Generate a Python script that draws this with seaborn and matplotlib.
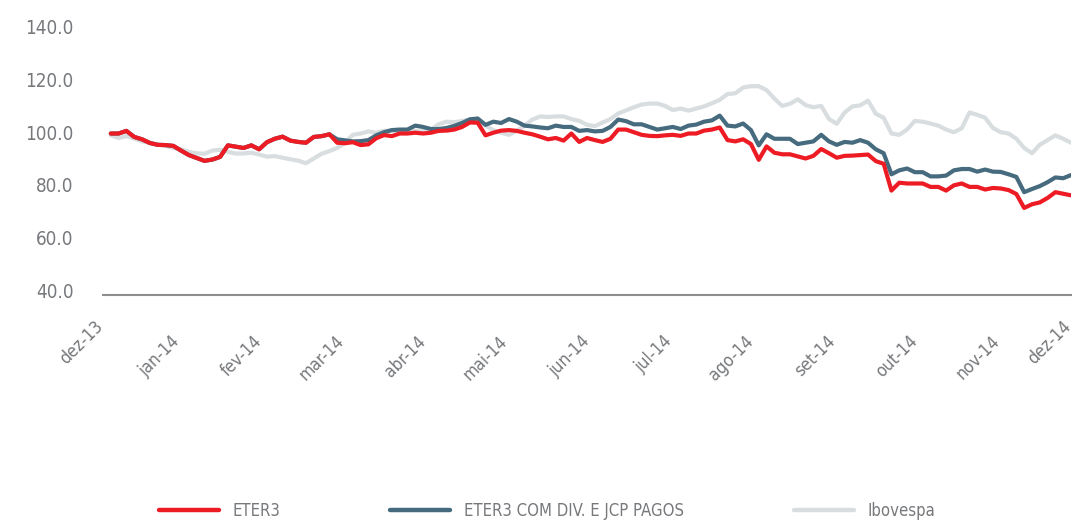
import numpy as np
import pandas as pd
import seaborn as sns
import matplotlib.pyplot as plt
from matplotlib.transforms import ScaledTranslation

#---------------------------------data (base 100, sampled every 2 trading days)
series_names = ["ETER3", "ETER3 COM DIV. E JCP PAGOS", "Ibovespa"]
month_labels = ["dez-13", "jan-14", "fev-14", "mar-14", "abr-14", "mai-14", "jun-14",
                "jul-14", "ago-14", "set-14", "out-14", "nov-14", "dez-14"]
month_days = [0, 19, 40, 61, 82, 103, 124, 145, 166, 187, 208, 229, 248]

eter3 = [99.5, 99.5, 100.5, 98.2, 97.3, 95.9, 95.2, 95.1, 94.8, 93.0,
         91.3, 90.2, 89.1, 89.6, 90.6, 95.0, 94.5, 94.0, 95.0, 93.5,
         96.2, 97.5, 98.3, 96.8, 96.3, 96.0, 98.2, 98.5, 99.2, 96.0,
         95.8, 96.2, 95.1, 95.4, 97.7, 98.9, 98.5, 99.5, 99.5, 99.8,
         99.5, 99.8, 100.5, 100.6, 101.0, 102.0, 103.7, 103.6, 98.8, 99.8,
         100.6, 100.8, 100.5, 99.8, 99.2, 98.3, 97.3, 97.8, 96.8, 99.5,
         96.3, 97.8, 97.0, 96.3, 97.5, 101.0, 101.0, 100.0, 99.0, 98.6,
         98.5, 98.8, 99.0, 98.6, 99.5, 99.5, 100.6, 101.0, 101.8, 97.0,
         96.5, 97.3, 95.5, 89.5, 94.6, 92.2, 91.6, 91.6, 90.8, 90.0,
         91.0, 93.6, 92.0, 90.3, 91.0, 91.1, 91.3, 91.5, 89.0, 88.0,
         77.8, 80.8, 80.5, 80.5, 80.5, 79.2, 79.2, 77.8, 79.8, 80.5,
         79.2, 79.2, 78.2, 78.8, 78.6, 78.0, 76.5, 71.2, 72.6, 73.3,
         75.0, 77.2, 76.6, 76.0]

eter3_div = [99.5, 99.5, 100.5, 98.2, 97.3, 95.9, 95.2, 95.1, 94.8, 93.0,
             91.3, 90.2, 89.1, 89.6, 90.6, 95.0, 94.5, 94.0, 95.0, 93.5,
             96.2, 97.5, 98.3, 96.8, 96.3, 96.0, 98.2, 98.5, 99.2, 97.3,
             96.9, 96.5, 96.6, 97.0, 98.8, 100.0, 100.8, 101.0, 101.0, 102.5,
             102.0, 101.2, 101.2, 101.6, 102.4, 103.5, 104.9, 105.2, 102.8, 104.0,
             103.5, 105.0, 104.0, 102.5, 102.2, 101.8, 101.5, 102.5, 102.0, 102.0,
             100.5, 100.8, 100.3, 100.5, 102.0, 104.8, 104.2, 103.0, 103.0, 102.0,
             101.0, 101.5, 102.0, 101.2, 102.5, 102.9, 104.0, 104.5, 106.3, 102.5,
             102.2, 103.3, 100.8, 95.0, 99.2, 97.5, 97.5, 97.5, 95.5, 96.0,
             96.5, 99.0, 96.5, 95.2, 96.3, 96.0, 97.0, 96.0, 93.5, 92.0,
             84.0, 85.5, 86.2, 84.8, 84.8, 83.2, 83.2, 83.5, 85.5, 86.0,
             86.0, 85.0, 85.8, 85.0, 84.9, 84.0, 83.0, 77.2, 78.4, 79.5,
             81.0, 82.8, 82.5, 83.7]

ibovespa = [98.8, 97.8, 98.5, 97.6, 96.5, 96.0, 95.3, 94.8, 94.0, 93.5,
            92.5, 92.0, 91.8, 93.0, 93.3, 92.5, 91.9, 91.9, 92.2, 91.5,
            90.7, 90.9, 90.3, 89.7, 89.2, 88.2, 90.0, 91.8, 92.8, 94.0,
            96.0, 99.0, 99.5, 100.3, 99.8, 100.5, 100.6, 100.5, 100.5, 100.5,
            100.5, 101.0, 103.0, 104.0, 103.8, 104.3, 104.8, 104.8, 102.5, 100.8,
            99.8, 99.0, 100.5, 102.5, 104.8, 106.0, 105.8, 106.0, 106.0, 105.0,
            104.3, 102.8, 102.3, 103.7, 105.0, 107.1, 108.3, 109.5, 110.5, 110.9,
            110.9, 110.0, 108.4, 109.0, 108.2, 109.0, 109.8, 111.0, 112.3, 114.5,
            114.8, 117.0, 117.5, 117.5, 116.0, 112.8, 110.0, 110.8, 112.5, 110.3,
            109.5, 110.0, 105.0, 103.2, 107.5, 109.8, 110.2, 112.0, 107.0, 105.5,
            99.5, 99.0, 101.0, 104.3, 104.0, 103.3, 102.5, 101.0, 100.0, 101.5,
            107.5, 106.6, 105.5, 101.6, 100.0, 99.5, 97.5, 94.0, 92.0, 95.2,
            97.0, 98.8, 97.5, 96.0]

days = np.arange(2, 2 * len(eter3) + 1, 2)

df = pd.DataFrame({
    "dia": np.tile(days, 3),
    "valor": eter3 + eter3_div + ibovespa,
    "serie": np.repeat(series_names, len(days)),
})

#---------------------------------style
sns.set_style("white")
plt.rcParams["font.family"] = ["DejaVu Sans"]
plt.rcParams["font.stretch"] = "condensed"
text_grey = "#76787b"
axis_grey = "#8c8e90"
palette = {"ETER3": "#ed1c24", "ETER3 COM DIV. E JCP PAGOS": "#476b7e", "Ibovespa": "#d8dde0"}

fig = plt.figure(figsize=(10.74, 5.2), dpi=100)
ax = fig.add_axes([103 / 1074, 1 - 290 / 520, 968 / 1074, 263 / 520])

# grey first, red on top
sns.lineplot(data=df, x="dia", y="valor", hue="serie", hue_order=series_names[::-1],
             palette=palette, linewidth=3.0, ax=ax)

ax.set_xlim(0, 248)
ax.set_ylim(40, 140)
ax.set_xlabel("")
ax.set_ylabel("")

for s in ["top", "right", "left"]:
    ax.spines[s].set_visible(False)
ax.spines["bottom"].set_color(axis_grey)
ax.spines["bottom"].set_linewidth(1.5)
ax.spines["bottom"].set_position(("outward", 3.6))

ax.tick_params(axis="y", length=0, pad=21, labelsize=13.5, labelcolor=text_grey)
ax.tick_params(axis="x", direction="out", length=9.4, width=1.5, color=axis_grey,
               pad=22, labelsize=12.5, labelcolor=text_grey)

ax.set_yticks(np.arange(40, 141, 20))
ax.set_yticklabels([f"{v:.1f}" for v in np.arange(40, 141, 20)])
ax.set_xticks(month_days)
ax.set_xticklabels(month_labels)
for lab in ax.get_xticklabels():
    lab.set_rotation(45)
    lab.set_rotation_mode("anchor")
    lab.set_ha("right")
    lab.set_va("center")

# first and last month labels sit a bit higher in the original
shift = ScaledTranslation(-0.03, 0.15, fig.dpi_scale_trans)
xlabs = ax.get_xticklabels()
for lab in (xlabs[0], xlabs[-1]):
    lab.set_transform(lab.get_transform() + shift)

#---------------------------------legend (ordered as in the report)
handles, labels = ax.get_legend_handles_labels()
ax.get_legend().remove()
leg = fig.legend(handles[::-1], labels[::-1], loc="center", bbox_to_anchor=(547 / 1074, 1 - 511 / 520),
                 ncol=3, frameon=False, fontsize=12, handlelength=3.6, handletextpad=0.8,
                 columnspacing=6.6, labelcolor=text_grey)
for line in leg.get_lines():
    line.set_linewidth(3.2)

fig.savefig("out.png", dpi=100, facecolor="white")
